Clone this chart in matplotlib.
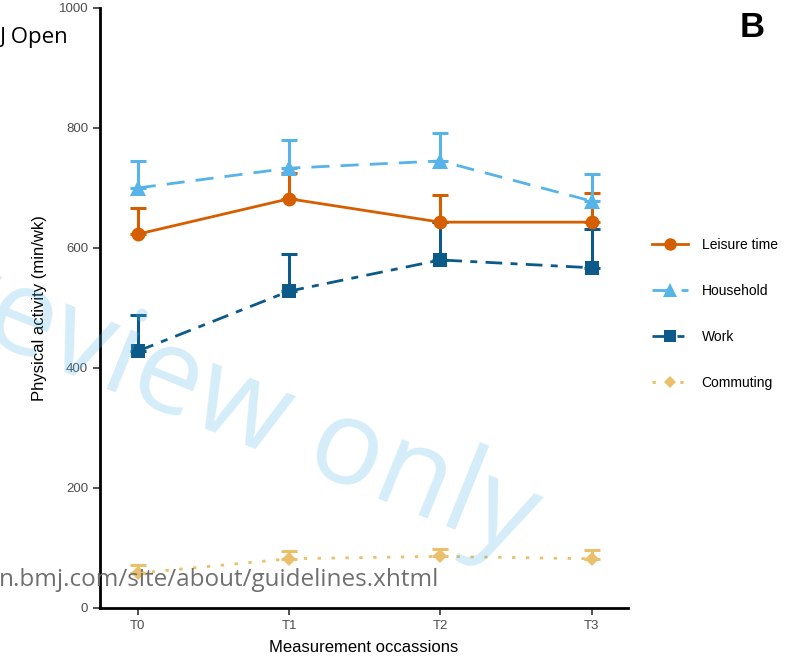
import numpy as np
import matplotlib
matplotlib.use('Agg')
import matplotlib.pyplot as plt
from matplotlib.lines import Line2D

plt.rcParams['font.family'] = ['Liberation Sans', 'DejaVu Sans']

occasions = ['T0', 'T1', 'T2', 'T3']

leisure = [623, 682, 643, 643]
leisure_upper = [667, 725, 689, 692]

household = [700, 733, 745, 678]
household_upper = [745, 780, 792, 724]

work = [428, 528, 580, 567]
work_upper = [488, 590, 643, 631]

commuting = [58, 82, 86, 82]
commuting_upper = [71, 95, 99, 97]

series = [
    ('Leisure time', leisure, leisure_upper, '#D55E00', '-', 'o', 10),
    ('Household', household, household_upper, '#56B4E9', (0, (6.5, 4)), '^', 11),
    ('Work', work, work_upper, '#0B5A8A', (0, (6, 3, 2.5, 3)), 's', 10),
    ('Commuting', commuting, commuting_upper, '#EAC06C', (0, (1.2, 3.8)), 'D', 7),
]

fig = plt.figure(figsize=(7.87, 6.63), dpi=100)
ax = fig.add_axes([0.127, 0.083, 0.671, 0.905])

x = np.arange(len(occasions))
handles = []
for label, y, upper, color, ls, marker, ms in series:
    y = np.array(y)
    err = np.array(upper) - y
    ax.errorbar(x, y, yerr=[np.zeros_like(err), err], color=color, ecolor=color,
                elinewidth=2.2, capsize=6, capthick=2.2, fmt='none', zorder=2)
    ax.plot(x, y, color=color, linestyle=ls, linewidth=2, marker=marker,
            markersize=ms, markeredgewidth=0, zorder=3)
    handles.append(Line2D([], [], color=color, linestyle=ls, linewidth=2,
                          marker=marker, markersize=ms * 0.9, markeredgewidth=0,
                          label=label))

ax.set_xlim(-0.25, 3.24)
ax.set_ylim(0, 1000)
ax.set_xticks(x)
ax.set_xticklabels(occasions)
ax.set_yticks([0, 200, 400, 600, 800, 1000])
ax.tick_params(axis='both', colors='#333333', labelcolor='#4d4d4d', labelsize=9.5,
               length=5, width=1.2, direction='out')
for s in ['top', 'right']:
    ax.spines[s].set_visible(False)
for s in ['left', 'bottom']:
    ax.spines[s].set_linewidth(2)
    ax.spines[s].set_color('black')

ax.set_xlabel('Measurement occassions', fontsize=12, labelpad=6)
ax.set_ylabel('Physical activity (min/wk)', fontsize=12, labelpad=8)

fig.legend(handles=handles, loc='upper left', bbox_to_anchor=(0.812, 0.66),
           frameon=False, fontsize=10, labelspacing=2.3, handlelength=2.6,
           handletextpad=1.0)

fig.text(0.972, 0.958, 'B', fontsize=25, fontweight='bold', ha='right', va='center')
fig.text(0.0, 0.943, 'J Open', fontsize=16, ha='left', va='center',
         family='Open Sans')

# watermark
fig.text(-0.07, 0.562, 'review only', fontsize=86, color='#56B4E9', alpha=0.25,
         rotation=-22, rotation_mode='anchor', ha='left', va='center',
         family='Open Sans', zorder=0)
fig.text(-0.002, 0.125, 'n.bmj.com/site/about/guidelines.xhtml', fontsize=17.5,
         color='#707070', ha='left', va='center', family='Open Sans', zorder=5)

fig.savefig('out.png', dpi=100)
